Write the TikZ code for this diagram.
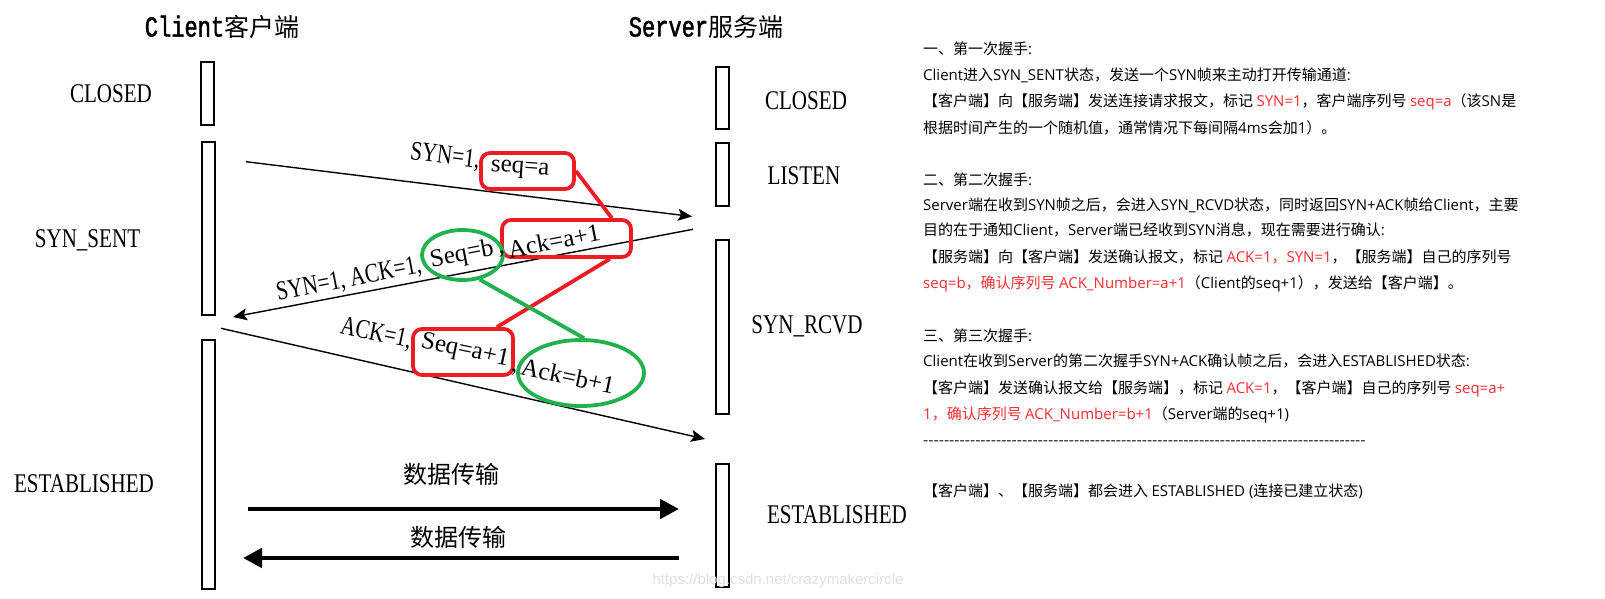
\documentclass[tikz,border=0pt]{standalone}
\usepackage{fontspec}
\setmainfont{Liberation Serif}
\newfontfamily\cjk{Noto Sans CJK SC}
\newfontfamily\latf{Open Sans}
\newfontfamily\narrowserif[FakeStretch=0.78]{Liberation Serif}
\newfontfamily\titlemono[FakeStretch=0.76,FakeBold=1.6]{Liberation Mono}
\newfontfamily\wmfont{Liberation Sans}
\usetikzlibrary{arrows.meta,shapes.geometric,calc}
\definecolor{mkred}{RGB}{237,28,36}
\definecolor{mkgreen}{RGB}{34,177,76}
\definecolor{txtred}{RGB}{250,45,50}
\newcommand\rd[1]{\textcolor{txtred}{#1}}
\newcommand\la[1]{{\latf #1}}
\newcommand\dashrow{\count255=0 \loop\ifnum\count255<85 -\kern0pt\relax\advance\count255 by 1 \repeat}
\tikzset{
  life/.style={draw, line width=1.6pt, fill=white, inner sep=0, minimum width=13pt},
  state/.style={inner sep=0, font=\narrowserif\fontsize{27}{27}\selectfont},
  ttl/.style={inner sep=0},
  msg/.style={inner sep=0, font=\narrowserif\fontsize{27}{27}\selectfont},
  seqt/.style={inner sep=0, font=\fontsize{25}{25}\selectfont},
  rbox/.style={draw=mkred, line width=3.8pt, rounded corners=9pt, inner sep=0},
  gell/.style={draw=mkgreen, line width=3.8pt, ellipse, inner sep=0},
  thin/.style={line width=1.4pt, -{Stealth[length=14pt,width=12pt,inset=3pt]}},
  thick/.style={line width=4.6pt, -{Triangle[length=19pt,width=19pt]}},
  dlabel/.style={inner sep=0, font=\cjk\fontsize{24}{24}\selectfont},
  rt/.style={anchor=west, inner sep=0, text height=13pt, text depth=3pt, font=\cjk\fontsize{15}{18}\selectfont},
}
\begin{document}
\begin{tikzpicture}[x=1pt,y=-1pt]
\useasboundingbox (0,0) rectangle (1605,599);
\fill[white] (0,0) rectangle (1605,599);

% titles
\node[ttl] (tc) at (222,27) {{\titlemono\fontsize{29}{29}\selectfont Client}{\cjk\fontsize{25}{25}\selectfont 客户端}};
\node[ttl] (ts) at (706,27) {{\titlemono\fontsize{29}{29}\selectfont Server}{\cjk\fontsize{25}{25}\selectfont 服务端}};

% lifelines client
\node[life, minimum height=63pt] (c1) at (207.5,93.5) {};
\node[life, minimum height=173pt] (c2) at (208.5,228.5) {};
\node[life, minimum height=249pt] (c3) at (208.5,464.5) {};
% lifelines server
\node[life, minimum height=62pt] (s1) at (722.5,98) {};
\node[life, minimum height=63pt] (s2) at (722.5,174.5) {};
\node[life, minimum height=174pt] (s3) at (722.5,327) {};
\node[life, minimum height=123pt] (s4) at (722.5,525.5) {};

% states
\node[state] (lc1) at (111,94) {CLOSED};
\node[state] (lc2) at (87.5,240) {SYN\_SENT};
\node[state] (lc3) at (84,484) {ESTABLISHED};
\node[state] (ls1) at (806,101) {CLOSED};
\node[state] (ls2) at (804,176) {LISTEN};
\node[state] (ls3) at (807,326) {SYN\_RCVD};
\node[state] (ls4) at (837,515) {ESTABLISHED};

% handshake arrows
\coordinate (a1s) at (246,161.7);
\coordinate (a1e) at (692,216.5);
\coordinate (a2s) at (693,229.3);
\coordinate (a2e) at (233,317);
\coordinate (a3s) at (221,328.3);
\coordinate (a3e) at (705,439);
\draw[thin] (a1s) -- (a1e);
\draw[thin] (a2s) -- (a2e);
\draw[thin] (a3s) -- (a3e);

% data arrows
\coordinate (d1s) at (248,509);
\coordinate (d1e) at (679,509);
\coordinate (d2s) at (679,558);
\coordinate (d2e) at (243,558);
\draw[thick] (d1s) -- (d1e);
\draw[thick] (d2s) -- (d2e);
\node[dlabel] (dl1) at (451,474) {数据传输};
\node[dlabel] (dl2) at (458,537) {数据传输};

% highlight boxes / ellipses
\node[rbox, minimum width=93pt, minimum height=36pt] (r1) at (527.5,171) {};
\node[rbox, minimum width=129pt, minimum height=37pt] (r2) at (566.5,238.5) {};
\node[rbox, minimum width=100pt, minimum height=46pt] (r3) at (463,352) {};
\node[gell, minimum width=81pt, minimum height=50pt] (e1) at (462.5,255) {};
\node[gell, minimum width=126pt, minimum height=66pt] (e2) at (581,373) {};

% connectors between highlights
\draw[mkred, line width=3.8pt] (r1.east) -- ([xshift=-21pt]r2.north east);
\draw[mkred, line width=3.8pt] ([xshift=-23pt]r2.south east) -- ([xshift=-18pt]r3.north east);
\draw[mkgreen, line width=3.8pt] (e1.-55) -- (e2.85);

% message labels
\node[msg, rotate=-7] (m1) at (445,157) {SYN=1,};
\node[seqt, rotate=-4] (t1) at (520,170) {seq=a};
\node[msg, rotate=11] (m2) at (349,280) {SYN=1, ACK=1,};
\node[seqt, rotate=11] (t2) at (462,255) {Seq=b};
\node[seqt] (k2) at (502,254) {,};
\node[seqt, rotate=11] (t3) at (554,241) {Ack=a+1};
\node[msg, rotate=-12] (m3) at (376,334) {ACK=1,};
\node[seqt, rotate=-12] (t4) at (465,351) {Seq=a+1};
\node[seqt] (k3) at (514,372) {,};
\node[seqt, rotate=-12] (t5) at (568,376) {Ack=b+1};

% right text
\node[rt] (b1a) at (923,50) {一、第一次握手\la{:}};
\node[rt] (b1b) at (923,75.5) {\la{Client}进入\la{SYN\_SENT}状态，发送一个\la{SYN}帧来主动打开传输通道\la{:}};
\node[rt] (b1c) at (923,101.5) {【客户端】向【服务端】发送连接请求报文，标记 \rd{\la{SYN=1}}，客户端序列号 \rd{\la{seq=a}}（该\la{SN}是};
\node[rt] (b1d) at (923,128) {根据时间产生的一个随机值，通常情况下每间隔\la{4ms}会加\la{1}）。};

\node[rt] (b2a) at (923,180) {二、第二次握手\la{:}};
\node[rt] (b2b) at (923,205) {\la{Server}端在收到\la{SYN}帧之后，会进入\la{SYN\_RCVD}状态，同时返回\la{SYN+ACK}帧给\la{Client}，主要};
\node[rt] (b2c) at (923,230.5) {目的在于通知\la{Client}，\la{Server}端已经收到\la{SYN}消息，现在需要进行确认\la{:}};
\node[rt] (b2d) at (923,257) {【服务端】向【客户端】发送确认报文，标记 \rd{\la{ACK=1}，\la{SYN=1}}，【服务端】自己的序列号};
\node[rt] (b2e) at (923,283) {\rd{\la{seq=b}，确认序列号 \la{ACK\_Number=a+1}}（\la{Client}的\la{seq+1}），发送给【客户端】。};

\node[rt] (b3a) at (923,336) {三、第三次握手\la{:}};
\node[rt] (b3b) at (923,361) {\la{Client}在收到\la{Server}的第二次握手\la{SYN+ACK}确认帧之后，会进入\la{ESTABLISHED}状态\la{:}};
\node[rt] (b3c) at (923,388) {【客户端】发送确认报文给【服务端】，标记 \rd{\la{ACK=1}}，【客户端】自己的序列号 \rd{\la{seq=a+}}};
\node[rt] (b3d) at (923,414.5) {\rd{\la{1}，确认序列号 \la{ACK\_Number=b+1}}（\la{Server}端的\la{seq+1)}};
\node[rt] (b3e) at (923,440) {\dashrow};
\node[rt] (b4) at (923,491) {【客户端】、【服务端】都会进入 \la{ESTABLISHED (}连接已建立状态\la{)}};

% watermark
\node[inner sep=0, text=black!12, font=\wmfont\fontsize{15}{15}\selectfont] (wm) at (778,581) {https://blog.csdn.net/crazymakercircle};
\end{tikzpicture}
\end{document}
